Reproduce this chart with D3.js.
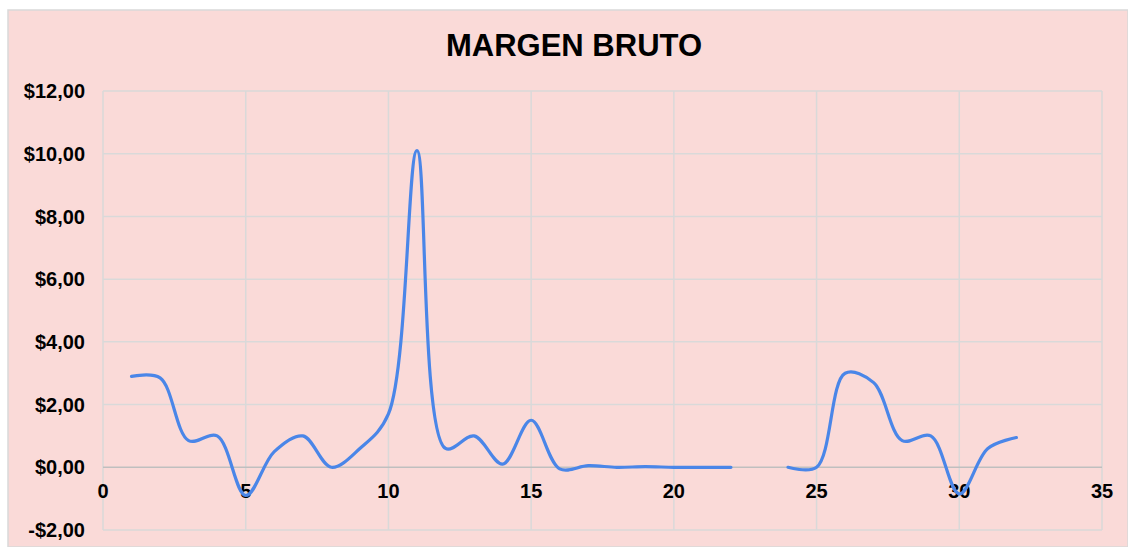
<!DOCTYPE html>
<html>
<head>
<meta charset="utf-8">
<script src="https://cdn.jsdelivr.net/npm/d3@7"></script>
<style>
  body { margin: 0; background: #fff; }
  text { font-family: "Liberation Sans", Arial, sans-serif; }
</style>
</head>
<body>
<script>
// day number and gross margin ($); day 23 has no value
var days = [1, 2, 3, 4, 5, 6, 7, 8, 9, 10, 11, 12, 13, 14, 15, 16,
            17, 18, 19, 20, 21, 22, 23, 24, 25, 26, 27, 28, 29, 30, 31, 32];
var margin = [2.9, 2.85, 0.85, 1.0, -0.9, 0.5, 1.0, 0.0, 0.6, 1.7, 10.1, 0.6, 1.0, 0.1, 1.5, -0.05,
              0.05, 0.0, 0.02, 0.0, 0.0, 0.0, null, 0.0, 0.0, 3.0, 2.7, 0.85, 1.0, -0.85, 0.6, 0.95];
var xTicks = [0, 5, 10, 15, 20, 25, 30, 35];
var yTicks = [-2, 0, 2, 4, 6, 8, 10, 12];

var W = 1128, H = 547;
// plot area edges (note: "top" clashes with window.top)
var plotL = 103, plotR = 1102, plotT = 91, plotB = 530;

var svg = d3.select('body').append('svg')
  .attr('width', W)
  .attr('height', H);

svg.append('rect')
  .attr('x', 8).attr('y', 10)
  .attr('width', W - 8).attr('height', H - 10)
  .attr('fill', '#FADAD8')
  .attr('stroke', '#D9D9D9')
  .attr('stroke-width', 1.5);

var x = d3.scaleLinear().domain([0, 35]).range([plotL, plotR]);
var y = d3.scaleLinear().domain([-2, 12]).range([plotB, plotT]);

// vertical gridlines
svg.selectAll('.vg')
  .data(xTicks)
  .enter()
  .append('line')
    .attr('x1', d => x(d)).attr('x2', d => x(d))
    .attr('y1', plotT).attr('y2', plotB)
    .attr('stroke', '#D9D9D9')
    .attr('stroke-width', 1.5);

// horizontal gridlines
svg.selectAll('.hg')
  .data(yTicks)
  .enter()
  .append('line')
    .attr('x1', plotL).attr('x2', plotR)
    .attr('y1', d => y(d)).attr('y2', d => y(d))
    .attr('stroke', d => d === 0 ? '#BFBFBF' : '#D9D9D9')
    .attr('stroke-width', 1.5);

svg.selectAll('.yl')
  .data(yTicks)
  .enter()
  .append('text')
    .attr('x', 85)
    .attr('y', d => y(d))
    .attr('dy', '0.36em')
    .attr('text-anchor', 'end')
    .attr('font-size', '20px')
    .attr('font-weight', 'bold')
    .attr('fill', '#000')
    .text(d => (d < 0 ? '-$' : '$') + Math.abs(d).toFixed(2).replace('.', ','));

svg.selectAll('.xl')
  .data(xTicks)
  .enter()
  .append('text')
    .attr('x', d => x(d))
    .attr('y', 498)
    .attr('text-anchor', 'middle')
    .attr('font-size', '20px')
    .attr('font-weight', 'bold')
    .attr('fill', '#000')
    .text(d => d);

var line = d3.line()
  .defined(d => d[1] !== null)
  .x(d => x(d[0]))
  .y(d => y(d[1]))
  .curve(d3.curveCatmullRom.alpha(0.5));

svg.append('path')
  .datum(days.map((d, i) => [d, margin[i]]))
  .attr('d', line)
  .attr('fill', 'none')
  .attr('stroke', '#4A86E8')
  .attr('stroke-width', 3.2)
  .attr('stroke-linecap', 'round');

svg.append('text')
  .attr('x', 574)
  .attr('y', 56)
  .attr('text-anchor', 'middle')
  .attr('font-size', '31px')
  .attr('font-weight', 'bold')
  .attr('fill', '#000')
  .text('MARGEN BRUTO');
</script>
</body>
</html>
